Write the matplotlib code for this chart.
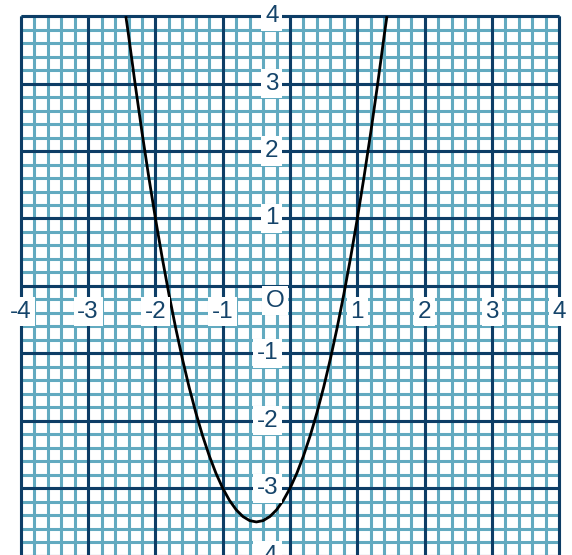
import numpy as np
import matplotlib
matplotlib.use("Agg")
import matplotlib.pyplot as plt

plt.rcParams['font.family'] = ['Liberation Sans', 'DejaVu Sans']

# curve points
curve_x = [-2.44, -2.4, -2.3, -2.2, -2.1, -2.0, -1.9, -1.8, -1.7, -1.6, -1.5,
           -1.4, -1.3, -1.2, -1.1, -1.0, -0.9, -0.8, -0.7, -0.6, -0.5, -0.4,
           -0.3, -0.2, -0.1, 0.0, 0.1, 0.2, 0.3, 0.4, 0.5, 0.6, 0.7, 0.8,
           0.9, 1.0, 1.1, 1.2, 1.3, 1.4, 1.44]
curve_y = [4.0, 3.72, 2.98, 2.28, 1.62, 1.0, 0.42, -0.12, -0.62, -1.08, -1.5,
           -1.88, -2.22, -2.52, -2.78, -3.0, -3.18, -3.32, -3.42, -3.48, -3.5,
           -3.48, -3.42, -3.32, -3.18, -3.0, -2.78, -2.52, -2.22, -1.88, -1.5,
           -1.08, -0.62, -0.12, 0.42, 1.0, 1.62, 2.28, 2.98, 3.72, 4.0]

x_ticks = [-4, -3, -2, -1, 1, 2, 3, 4]
y_ticks = [-4, -3, -2, -1, 1, 2, 3, 4]

light = "#62aac0"
dark = "#0d3d66"
text_col = "#15446a"

fig = plt.figure(figsize=(5.72, 5.55), dpi=100)
ax = fig.add_axes([0, 0, 1, 1])
ax.set_xlim(-4.31, 4.19)
ax.set_ylim(-3.99, 4.24)
ax.axis('off')

minor = np.round(np.arange(-4, 4.001, 0.2), 2)
ax.vlines(minor, -4, 4, colors=light, lw=2.2, zorder=1)
ax.hlines(minor, -4, 4, colors=light, lw=2.2, zorder=1)
major = np.arange(-4, 5)
ax.vlines(major, -4, 4, colors=dark, lw=2.2, zorder=2)
ax.hlines(major, -4, 4, colors=dark, lw=2.2, zorder=2)

ax.plot(curve_x, curve_y, color='black', lw=2, zorder=3, solid_capstyle='butt')

box = dict(boxstyle='square,pad=0.15', fc='white', ec='none')
for v in x_ticks:
    ax.text(v, -0.38, str(v), ha='center', va='center', fontsize=17.5,
            color=text_col, bbox=box, zorder=4)
for v in y_ticks:
    ax.text(-0.17, v, str(v), ha='right', va='center', fontsize=17.5,
            color=text_col, bbox=box, zorder=4)
ax.text(-0.22, -0.22, 'O', ha='center', va='center', fontsize=17.5,
        color=text_col, bbox=box, zorder=4)

fig.savefig('out.png', dpi=100)
